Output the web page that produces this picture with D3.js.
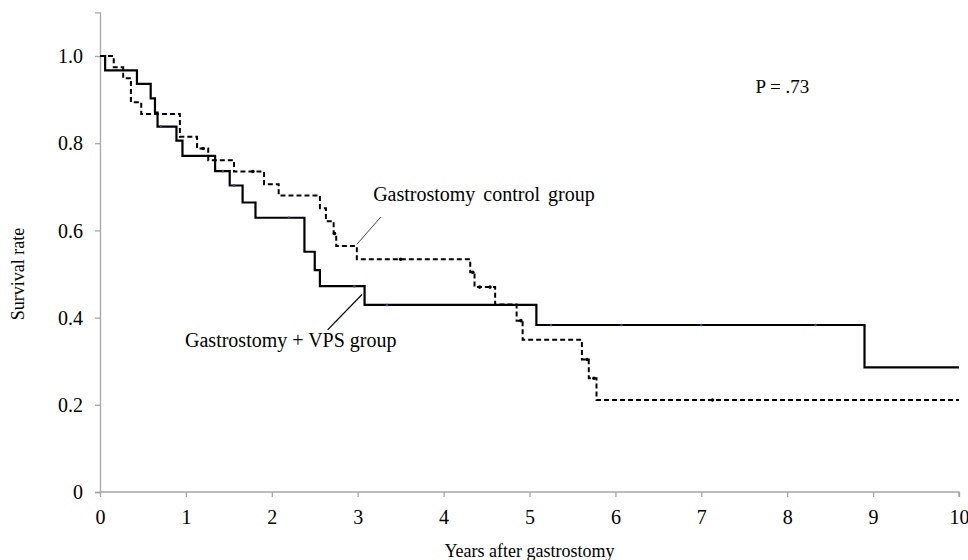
<!DOCTYPE html>
<html><head><meta charset="utf-8">
<script src="https://cdn.jsdelivr.net/npm/d3@7/dist/d3.min.js"></script>
<style>body{margin:0;background:#fff}svg{display:block}svg text{font-family:'Liberation Serif','DejaVu Serif';fill:#000}</style>
</head><body><svg id="c" width="968" height="560"></svg>
<script>
// Gastrostomy + VPS group (solid)
const vpsTimes  = [0, 0.06, 0.43, 0.59, 0.64, 0.67, 0.89, 0.96, 1.34, 1.51, 1.66, 1.81, 2.38, 2.50, 2.56, 3.08, 5.08, 8.90, 10.0];
const vpsSurv   = [1.0, 0.967, 0.936, 0.903, 0.870, 0.838, 0.806, 0.771, 0.736, 0.703, 0.664, 0.629, 0.551, 0.509, 0.472, 0.429, 0.383, 0.286, 0.286];
const vpsCensor = [0.71, 1.43, 1.56, 2.20, 2.96, 3.34, 5.25, 6.07, 7.00, 8.33];
// Gastrostomy control group (dashed)
const ctlTimes  = [0, 0.16, 0.27, 0.36, 0.48, 0.93, 1.13, 1.26, 1.56, 1.91, 2.08, 2.56, 2.63, 2.72, 2.75, 2.99, 4.31, 4.36, 4.60, 4.85, 4.92, 5.61, 5.69, 5.78, 10.0];
const ctlSurv   = [1.0, 0.974, 0.949, 0.894, 0.867, 0.815, 0.788, 0.761, 0.735, 0.706, 0.680, 0.651, 0.621, 0.593, 0.564, 0.534, 0.504, 0.470, 0.430, 0.393, 0.349, 0.304, 0.261, 0.211, 0.211];
const ctlCensor = [1.20, 1.78, 2.73, 3.50, 4.34, 4.42, 4.54, 4.90, 5.67, 5.75, 7.13];
// axes
const xTicks = [0,1,2,3,4,5,6,7,8,9,10];
const yTicks = [0, 0.2, 0.4, 0.6, 0.8, 1.0];
const yTickLabels = ["0", "0.2", "0.4", "0.6", "0.8", "1.0"];
const xTitle = "Years after gastrostomy";
const yTitle = "Survival rate";
const ctlLabel = "Gastrostomy control group";
const vpsLabel = "Gastrostomy + VPS group";
const pLabel = "P = .73";

const FONT = "'Liberation Serif','DejaVu Serif'";
const svg = d3.select("#c");
const x = d3.scaleLinear().domain([0,10]).range([100,959]);
const y = d3.scaleLinear().domain([0,1.1]).range([492,12.4]);
const axisColor = "#a6a6a6";

// y axis
const ya = svg.append("g").attr("transform","translate(100,0)")
  .call(d3.axisLeft(y).tickValues(yTicks).tickSize(5).tickFormat((d,i)=>yTickLabels[i]));
ya.attr("font-family",null);
ya.select(".domain").attr("stroke",axisColor).attr("stroke-width",1.3);
ya.selectAll(".tick line").attr("stroke",axisColor).attr("stroke-width",1.3);
ya.selectAll(".tick text").attr("font-size",20).style("font-family",FONT).attr("x",-17).attr("dy","0.33em");

// x axis
const xa = svg.append("g").attr("transform","translate(0,492)")
  .call(d3.axisBottom(x).tickValues(xTicks).tickSize(5).tickFormat(d3.format("d")));
xa.attr("font-family",null);
xa.select(".domain").attr("stroke",axisColor).attr("stroke-width",1.3).attr("d","M100,0H959V5");
xa.selectAll(".tick line").attr("stroke",axisColor).attr("stroke-width",1.3);
xa.selectAll(".tick text").attr("font-size",20).style("font-family",FONT).attr("y",18);

// titles
svg.append("text").attr("x",(x(0)+x(10))/2).attr("y",557).attr("text-anchor","middle").attr("font-size",18).style("font-family",FONT).text(xTitle);
svg.append("text").attr("transform","translate(24,"+y(0.5)+") rotate(-90)").attr("text-anchor","middle").attr("font-size",18).style("font-family",FONT).text(yTitle);

// step lines
const line = d3.line().x(d=>x(d[0])).y(d=>y(d[1])).curve(d3.curveStepAfter);
const vpsData = vpsTimes.map((t,i)=>[t,vpsSurv[i]]);
const ctlData = ctlTimes.map((t,i)=>[t,ctlSurv[i]]);
function survAt(times, surv, t){ let v=surv[0]; for(let i=0;i<times.length;i++){ if(times[i]<=t) v=surv[i]; } return v; }

svg.append("path").attr("d",line(ctlData)).attr("fill","none").attr("stroke","#000").attr("stroke-width",2).attr("stroke-dasharray","5,3");
svg.append("path").attr("d",line(vpsData)).attr("fill","none").attr("stroke","#000").attr("stroke-width",2.2);

// censor marks
svg.selectAll(".cc").data(ctlCensor).enter().append("circle")
  .attr("cx",d=>x(d)).attr("cy",d=>y(survAt(ctlTimes,ctlSurv,d))).attr("r",1.8).attr("fill","#000");
svg.selectAll(".vc").data(vpsCensor).enter().append("circle")
  .attr("cx",d=>x(d)).attr("cy",d=>y(survAt(vpsTimes,vpsSurv,d))).attr("r",1.3).attr("fill","#2a4a7a");

// annotations
const ctlLeader = [[2.99,0.568],[3.27,0.631]];
const vpsLeader = [[3.05,0.453],[2.65,0.372]];
svg.append("line").attr("x1",x(ctlLeader[0][0])).attr("y1",y(ctlLeader[0][1])).attr("x2",x(ctlLeader[1][0])).attr("y2",y(ctlLeader[1][1])).attr("stroke","#444").attr("stroke-width",1);
svg.append("line").attr("x1",x(vpsLeader[0][0])).attr("y1",y(vpsLeader[0][1])).attr("x2",x(vpsLeader[1][0])).attr("y2",y(vpsLeader[1][1])).attr("stroke","#000").attr("stroke-width",1.2);
svg.append("text").attr("x",x(3.18)).attr("y",y(0.667)).attr("font-size",20).style("font-family",FONT).style("word-spacing","3px").text(ctlLabel);
svg.append("text").attr("x",x(0.99)).attr("y",y(0.333)).attr("font-size",20).style("font-family",FONT).text(vpsLabel);
svg.append("text").attr("x",x(7.63)).attr("y",y(0.915)).attr("font-size",19).style("font-family",FONT).text(pLabel);
</script></body></html>
